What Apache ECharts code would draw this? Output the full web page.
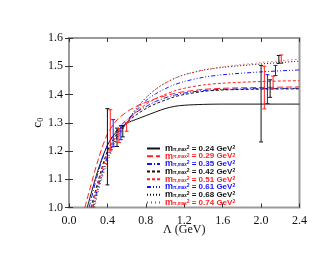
<!DOCTYPE html>
<html><head><meta charset="utf-8">
<script src="https://cdn.jsdelivr.net/npm/echarts@6/dist/echarts.min.js"></script>
<style>html,body{margin:0;padding:0;background:#fff}#c{width:332px;height:257px}</style>
</head><body><div id="c"></div>
<script>
// tick labels
const xTicks = ['0.0','0.4','0.8','1.2','1.6','2.0','2.4'];
const yTicks = ['1.0','1.1','1.2','1.3','1.4','1.5','1.6'];
// legend values (m_pi,max^2 in GeV^2)
const mMax = ['0.24','0.29','0.35','0.42','0.51','0.61','0.68','0.74'];
// curves [Lambda, c0]
const s024 = [[0.19,1.0],[0.3,1.13],[0.4,1.22],[0.5,1.27],[0.6,1.298],[0.7,1.312],[0.8,1.325],[0.9,1.338],[1.0,1.35],[1.1,1.358],[1.2,1.362],[1.4,1.365],[1.6,1.366],[2.0,1.366],[2.4,1.366]];
const s029 = [[0.165,1.0],[0.3,1.165],[0.4,1.26],[0.5,1.31],[0.6,1.338],[0.7,1.358],[0.8,1.372],[0.9,1.385],[1.0,1.395],[1.1,1.404],[1.2,1.41],[1.4,1.418],[1.6,1.422],[2.0,1.425],[2.4,1.427]];
const s035 = [[0.21,1.0],[0.3,1.12],[0.4,1.22],[0.5,1.275],[0.6,1.31],[0.7,1.337],[0.8,1.357],[0.9,1.375],[1.0,1.388],[1.1,1.398],[1.2,1.405],[1.4,1.414],[1.6,1.418],[2.0,1.421],[2.4,1.422]];
const s042 = [[0.23,1.0],[0.3,1.09],[0.4,1.20],[0.5,1.262],[0.6,1.30],[0.7,1.328],[0.8,1.35],[0.9,1.367],[1.0,1.38],[1.1,1.392],[1.2,1.40],[1.4,1.411],[1.6,1.416],[2.0,1.419],[2.4,1.42]];
const s051 = [[0.24,1.0],[0.3,1.08],[0.4,1.19],[0.5,1.257],[0.6,1.30],[0.7,1.338],[0.8,1.365],[0.9,1.385],[1.0,1.40],[1.1,1.413],[1.2,1.422],[1.4,1.434],[1.6,1.44],[2.0,1.446],[2.4,1.449]];
const s061 = [[0.25,1.0],[0.3,1.07],[0.4,1.18],[0.5,1.25],[0.6,1.30],[0.7,1.343],[0.8,1.378],[0.9,1.402],[1.0,1.42],[1.1,1.435],[1.2,1.446],[1.4,1.461],[1.6,1.47],[2.0,1.48],[2.4,1.487]];
const s068 = [[0.26,1.0],[0.3,1.06],[0.4,1.17],[0.5,1.245],[0.6,1.30],[0.7,1.35],[0.8,1.388],[0.9,1.418],[1.0,1.44],[1.1,1.457],[1.2,1.47],[1.4,1.486],[1.6,1.496],[2.0,1.508],[2.4,1.518]];
const s074 = [[0.27,1.0],[0.3,1.05],[0.4,1.16],[0.5,1.24],[0.6,1.30],[0.7,1.35],[0.8,1.388],[0.9,1.418],[1.0,1.44],[1.1,1.457],[1.2,1.47],[1.4,1.487],[1.6,1.498],[2.0,1.513],[2.4,1.525]];
const curves = [s024,s029,s035,s042,s051,s061,s068,s074];
// error bars: Lambda, low, high, curve index
const errX  = [0.40,0.43,0.46,0.50,0.52,0.54,0.56,0.60, 2.00,2.034,2.066,2.094,2.125,2.15,2.185,2.21];
const errLo = [1.08,1.20,1.215,1.216,1.23,1.24,1.25,1.27, 1.232,1.349,1.368,1.39,1.42,1.467,1.51,1.51];
const errHi = [1.35,1.346,1.311,1.281,1.28,1.29,1.29,1.30, 1.503,1.50,1.47,1.452,1.465,1.503,1.538,1.54];
const errK  = [0,1,2,3,4,5,6,7, 0,1,2,3,4,5,6,7];

const BLACK='#111', RED='#ff2020', BLUE='#1515ff';
const styles = [
  {color:BLACK, type:'solid'},
  {color:RED, type:[6,3]},
  {color:BLUE, type:[5,2,1,2]},
  {color:BLACK, type:[3,2]},
  {color:RED, type:[3,2]},
  {color:BLUE, type:[4,2,1,2,1,2]},
  {color:BLACK, type:[1,2]},
  {color:RED, type:[1,3]}
];

const chart = echarts.init(document.getElementById('c'), null, {renderer:'canvas'});
const serif = 'Liberation Serif';
const tickStyle = {inside:true, length:4, lineStyle:{color:'#333', width:1}};
const series = curves.map((d,i)=>({
  name: mMax[i], type:'line', data:d, showSymbol:false, symbol:'none',
  smooth:0.3, z:3,
  lineStyle:{color:styles[i].color, type:styles[i].type, width:1},
  itemStyle:{color:styles[i].color}
}));
series.push({
  name:'err', type:'custom', z:4,
  data: errX.map((x,i)=>[x, errLo[i], errHi[i], errK[i]]),
  encode:{x:0, y:[1,2]},
  renderItem(params, api){
    const x=api.value(0), lo=api.value(1), hi=api.value(2), k=api.value(3);
    const p1=api.coord([x,lo]), p2=api.coord([x,hi]);
    const w=2;
    const st={stroke:styles[k].color, lineWidth:1};
    return {type:'group', children:[
      {type:'line', shape:{x1:p1[0],y1:p1[1],x2:p2[0],y2:p2[1]}, style:st},
      {type:'line', shape:{x1:p1[0]-w,y1:p1[1],x2:p1[0]+w,y2:p1[1]}, style:st},
      {type:'line', shape:{x1:p2[0]-w,y1:p2[1],x2:p2[0]+w,y2:p2[1]}, style:st}
    ]};
  }
});

chart.setOption({
  animation:false,
  backgroundColor:'#fff',
  grid:{left:69, right:32.5, top:38, bottom:49.5, show:true, borderColor:'#9a9a9a', borderWidth:2, backgroundColor:'transparent'},
  xAxis:[{
    type:'value', min:0, max:2.4, interval:0.4, position:'bottom',
    axisLine:{show:false}, splitLine:{show:false}, axisTick:tickStyle,
    axisLabel:{margin:7, color:'#111', fontFamily:serif, fontSize:12, formatter:(v,i)=>xTicks[i]},
    name:'Λ (GeV)', nameLocation:'middle', nameGap:16, nameMoveOverlap:false,
    nameTextStyle:{color:'#111', fontFamily:serif, fontSize:12}
  },{
    type:'value', min:0, max:2.4, interval:0.4, position:'top',
    axisLine:{show:false}, splitLine:{show:false}, axisTick:tickStyle, axisLabel:{show:false}
  }],
  yAxis:[{
    type:'value', min:1.0, max:1.6, interval:0.1, position:'left',
    axisLine:{show:false}, splitLine:{show:false}, axisTick:tickStyle,
    axisLabel:{margin:6, color:'#111', fontFamily:serif, fontSize:12, formatter:(v,i)=>yTicks[i]},
    name:'{c|c}{s|0}', nameLocation:'middle', nameGap:24, nameRotate:90, nameMoveOverlap:false,
    nameTextStyle:{color:'#111', fontFamily:serif, fontSize:13,
      rich:{c:{fontFamily:serif, fontSize:13, color:'#111'}, s:{fontFamily:serif, fontSize:8, color:'#111', verticalAlign:'bottom', padding:[6,0,0,0]}}}
  },{
    type:'value', min:1.0, max:1.6, interval:0.1, position:'right',
    axisLine:{show:false}, splitLine:{show:false}, axisTick:tickStyle, axisLabel:{show:false}
  }],
  legend:{
    orient:'vertical', left:146, top:144, itemWidth:13, itemHeight:6, itemGap:-1.3,
    padding:0, selectedMode:false,
    itemStyle:{opacity:0},
    data: mMax.map((n,i)=>({name:n, textStyle:{color:styles[i].color}})),
    formatter: n => '{m|m}{sub|π,max}{sup|2} = ' + n + ' GeV{sup|2}',
    textStyle:{fontFamily:'Liberation Sans', fontWeight:'bold', fontSize:8, lineHeight:7,
      rich:{
        m:{fontFamily:'Liberation Sans', fontWeight:'bold', fontSize:9, lineHeight:7},
        sub:{fontFamily:'Liberation Sans', fontWeight:'bold', fontSize:4.5, lineHeight:7, verticalAlign:'bottom'},
        sup:{fontFamily:'Liberation Sans', fontWeight:'bold', fontSize:5, lineHeight:7, verticalAlign:'top'}
      }}
  },
  series
});
</script></body></html>
